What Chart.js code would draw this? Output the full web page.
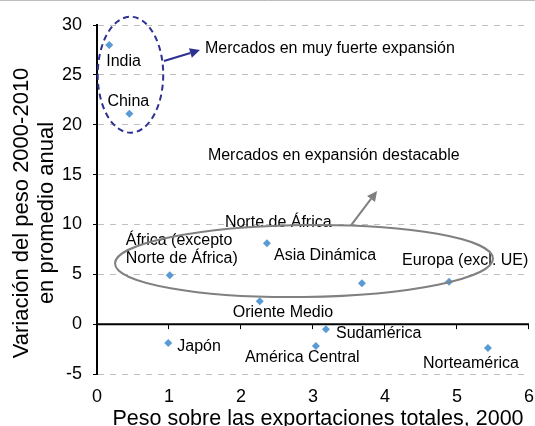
<!DOCTYPE html>
<html lang="es">
<head>
<meta charset="utf-8">
<title>Variación del peso de los mercados de exportación</title>
<script src="https://cdn.jsdelivr.net/npm/chart.js@4.4.1/dist/chart.umd.min.js"></script>
<style>
  html, body { margin: 0; padding: 0; background: #fff; overflow: hidden; }
  #wrap { width: 535px; height: 426px; position: relative; }
</style>
</head>
<body>
<div id="wrap"><canvas id="chart" width="535" height="426"></canvas></div>
<script>
// Mercados de destino: peso en 2000 (%) y variación media anual 2000-2010 (%)
const regions = [
  'India', 'China', 'África (excepto\nNorte de África)', 'Norte de África',
  'Oriente Medio', 'Japón', 'Asia Dinámica', 'Europa (excl. UE)',
  'Sudamérica', 'América Central', 'Norteamérica'
];
const share2000 = [0.17, 0.45, 1.01, 2.36, 2.26, 0.99, 3.68, 4.89, 3.18, 3.04, 5.43];
const growth = [28.0, 21.1, 4.9, 8.1, 2.3, -1.9, 4.1, 4.25, -0.5, -2.2, -2.4];

const xTicks = [0, 1, 2, 3, 4, 5, 6];
const yTicks = [-5, 0, 5, 10, 15, 20, 25, 30];

const xTitle = 'Peso sobre las exportaciones totales, 2000';
const yTitle = ['Variación del peso 2000-2010', 'en promedio anual'];

const groupNotes = ['Mercados en muy fuerte expansión', 'Mercados en expansión destacable'];

// Placement of each region label relative to its marker (px: left edge, middle of first line)
const labelOffsets = [
  [-3, 17], [-22, -12], [-44, -35], [-42, -21], [-27, 11], [9, 4],
  [-88, -28], [-47, -21], [10, 4], [-71, 12], [-65, 16]
];

// Grouping shapes, in axis units
const FONT = '"Liberation Sans", Arial, Helvetica, sans-serif';
const NAVY = '#2E3192';
const GREY = '#808080';
const groupShapes = {
  strong: { xMin: 0.01, xMax: 0.92, yMin: 19.2, yMax: 30.83, color: NAVY, dash: [6, 4], rot: 0 },
  notable: { xMin: 0.25, xMax: 5.5, yMin: 2.72, yMax: 9.94, color: GREY, dash: [], rot: -0.013 }
};
const arrows = [
  { from: [0.93, 26.39], to: [1.43, 27.49], color: NAVY },
  { from: [3.53, 9.94], to: [3.89, 13.35], color: GREY }
];
const notePos = [[1.5, 27.6], [1.54, 16.95]];

function drawArrow(ctx, x1, y1, x2, y2, color) {
  const ang = Math.atan2(y2 - y1, x2 - x1);
  const headLen = 10, headW = 5;
  const bx = x2 - Math.cos(ang) * headLen, by = y2 - Math.sin(ang) * headLen;
  ctx.save();
  ctx.strokeStyle = color;
  ctx.fillStyle = color;
  ctx.lineWidth = 2;
  ctx.beginPath();
  ctx.moveTo(x1, y1);
  ctx.lineTo(bx, by);
  ctx.stroke();
  ctx.beginPath();
  ctx.moveTo(x2, y2);
  ctx.lineTo(bx + Math.sin(ang) * headW, by - Math.cos(ang) * headW);
  ctx.lineTo(bx - Math.sin(ang) * headW, by + Math.cos(ang) * headW);
  ctx.closePath();
  ctx.fill();
  ctx.restore();
}

const decorations = {
  id: 'decorations',
  beforeDatasetsDraw(chart) {
    const { ctx, chartArea: a, scales: { x, y } } = chart;
    const y0 = y.getPixelForValue(0);
    ctx.save();
    ctx.strokeStyle = '#000';
    ctx.lineWidth = 2;
    ctx.beginPath();
    ctx.moveTo(a.left, y0);
    ctx.lineTo(a.right, y0);
    ctx.stroke();
    ctx.lineWidth = 1;
    xTicks.forEach(v => {
      if (v === 0) return;
      const px = Math.round(x.getPixelForValue(v)) - 0.5;
      ctx.beginPath();
      ctx.moveTo(px, y0);
      ctx.lineTo(px, y0 + 5);
      ctx.stroke();
    });
    ctx.restore();
  },
  afterDatasetsDraw(chart) {
    const { ctx, scales: { x, y } } = chart;
    const pts = chart.getDatasetMeta(0).data;

    // region labels
    ctx.save();
    ctx.font = '16px ' + FONT;
    ctx.fillStyle = '#000';
    ctx.textAlign = 'left';
    ctx.textBaseline = 'middle';
    regions.forEach((name, i) => {
      const [dx, dy] = labelOffsets[i];
      name.split('\n').forEach((line, k) => {
        ctx.fillText(line, pts[i].x + dx, pts[i].y + dy + k * 18);
      });
    });
    groupNotes.forEach((t, i) => {
      ctx.fillText(t, x.getPixelForValue(notePos[i][0]), y.getPixelForValue(notePos[i][1]));
    });
    ctx.restore();

    // group outlines
    Object.values(groupShapes).forEach(s => {
      const l = x.getPixelForValue(s.xMin), r = x.getPixelForValue(s.xMax);
      const t = y.getPixelForValue(s.yMax), b = y.getPixelForValue(s.yMin);
      ctx.save();
      ctx.strokeStyle = s.color;
      ctx.lineWidth = 2;
      ctx.setLineDash(s.dash);
      ctx.beginPath();
      ctx.ellipse((l + r) / 2, (t + b) / 2, (r - l) / 2, (b - t) / 2, s.rot, 0, Math.PI * 2);
      ctx.stroke();
      ctx.restore();
    });

    arrows.forEach(a => {
      drawArrow(ctx,
        x.getPixelForValue(a.from[0]), y.getPixelForValue(a.from[1]),
        x.getPixelForValue(a.to[0]), y.getPixelForValue(a.to[1]), a.color);
    });
  },
  afterDraw(chart) {
    const { ctx, width } = chart;
    ctx.save();
    // thin rule along the top edge
    ctx.strokeStyle = '#bdbdbd';
    ctx.lineWidth = 1;
    ctx.beginPath();
    ctx.moveTo(0, 0.5);
    ctx.lineTo(width, 0.5);
    ctx.stroke();

    ctx.fillStyle = '#000';
    ctx.textBaseline = 'alphabetic';
    ctx.textAlign = 'center';
    // vertical axis title
    ctx.font = '22px ' + FONT;
    const midY = 213;
    [28, 53].forEach((bx, i) => {
      ctx.save();
      ctx.translate(bx, midY);
      ctx.rotate(-Math.PI / 2);
      ctx.fillText(yTitle[i], 0, 0);
      ctx.restore();
    });
    // horizontal axis title
    ctx.font = '21.5px ' + FONT;
    ctx.fillText(xTitle, 318, 425);
    ctx.restore();
  }
};

new Chart(document.getElementById('chart'), {
  type: 'scatter',
  data: {
    datasets: [{
      data: share2000.map((v, i) => ({ x: v, y: growth[i] })),
      pointStyle: 'rectRot',
      pointRadius: 4,
      pointHoverRadius: 4,
      borderWidth: 0,
      backgroundColor: '#5B9BD5',
      borderColor: '#5B9BD5'
    }]
  },
  options: {
    responsive: false,
    animation: false,
    events: [],
    layout: { padding: { top: 25, right: 6, bottom: 0, left: 0 } },
    plugins: { legend: { display: false }, tooltip: { enabled: false } },
    scales: {
      x: {
        type: 'linear',
        min: xTicks[0],
        max: xTicks[xTicks.length - 1],
        afterBuildTicks: s => { s.ticks = xTicks.map(v => ({ value: v })); },
        afterFit: s => { s.height = 52; s.paddingLeft = 0; s.paddingRight = 0; },
        grid: { display: false, drawTicks: false },
        border: { display: false },
        ticks: { color: '#000', padding: 12, maxRotation: 0, font: { family: FONT, size: 18 } }
      },
      y: {
        type: 'linear',
        min: yTicks[0],
        max: yTicks[yTicks.length - 1],
        afterBuildTicks: s => { s.ticks = yTicks.map(v => ({ value: v })); },
        afterFit: s => { s.width = 97; },
        grid: {
          color: c => (c.tick && c.tick.value === 0) ? 'rgba(0,0,0,0)' : '#bfbfbf',
          lineWidth: 1,
          drawTicks: true,
          tickLength: 4,
          tickColor: '#000',
          tickWidth: 1
        },
        border: { display: true, color: '#000', width: 2, dash: [6, 6] },
        ticks: { color: '#000', padding: 11, font: { family: FONT, size: 18 } }
      }
    }
  },
  plugins: [decorations]
});
</script>
</body>
</html>
